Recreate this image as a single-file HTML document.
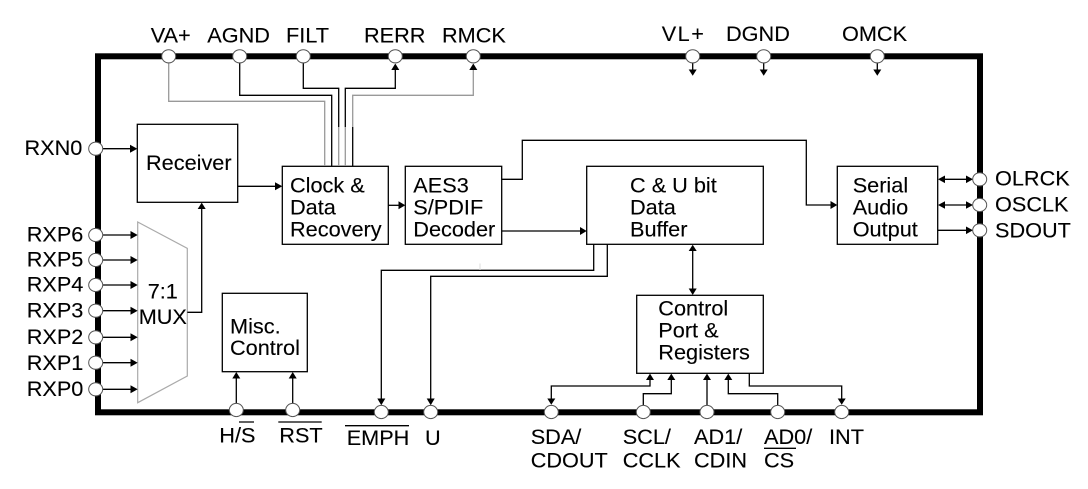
<!DOCTYPE html>
<html>
<head>
<meta charset="utf-8">
<style>
html,body{margin:0;padding:0;background:#fff;}
svg{display:block;}
text{font-family:"Liberation Sans",Arial,sans-serif;font-size:21.7px;fill:#000;stroke:#000;stroke-width:0.12;}
.b{fill:#fff;stroke:#000;stroke-width:1.3;}
.l{fill:none;stroke:#000;stroke-width:1.3;}
.g{fill:none;stroke:#999;stroke-width:1.3;}
.p{fill:#fff;stroke:#555;stroke-width:1;}
.a{fill:#000;stroke:none;}
</style>
</head>
<body>
<svg width="1088" height="489" viewBox="0 0 1088 489" xmlns="http://www.w3.org/2000/svg">
<rect width="1088" height="489" fill="#fff"/>
<rect x="98" y="56.3" width="882" height="356" fill="none" stroke="#000" stroke-width="6"/>

<!-- boxes -->
<rect class="b" x="137.3" y="124.3" width="100.4" height="78"/>
<rect class="b" x="282.3" y="166.3" width="106" height="78"/>
<rect class="b" x="405.3" y="166.3" width="96.4" height="78"/>
<rect class="b" x="586.7" y="166.3" width="176.6" height="78"/>
<rect class="b" x="837.3" y="166.3" width="100.4" height="78"/>
<rect class="b" x="636.7" y="295.3" width="126.6" height="78"/>
<rect class="b" x="222.3" y="293.3" width="85" height="78.4"/>
<polygon points="137.7,222 187.3,248.3 187.3,376 137.7,402.7" fill="#fff" stroke="#aaa" stroke-width="1.2"/>

<!-- top bundle -->
<path class="g" d="M168.7 62V101.3H324.7V166"/>
<path class="l" d="M239.7 62V95.3H331.7V166"/>
<path class="l" d="M303.3 62V88.3H338.7V127"/>
<path class="g" d="M338.7 127V166"/>
<path class="l" d="M395.3 68V88.3H345.3V127"/>
<path class="g" d="M345.3 127V166"/>
<path class="g" d="M473.3 68V95.3H352.7V127"/>
<path class="l" d="M352.7 127V166"/>
<polygon class="a" points="395.3,63.5 391.3,70 399.3,70"/>
<polygon class="a" points="473.3,63.5 469.3,70 477.3,70"/>

<!-- top down arrows -->
<path class="l" d="M692.7 62V71M763.7 62V71M877.3 62V71"/>
<polygon class="a" points="692.7,75.7 688.7,69.5 696.7,69.5"/>
<polygon class="a" points="763.7,75.7 759.7,69.5 767.7,69.5"/>
<polygon class="a" points="877.3,75.7 873.3,69.5 881.3,69.5"/>

<!-- left inputs -->
<path class="l" d="M102 148.7H132M102 235H132M102 260H132M102 285H132M102 310.7H132M102 337.3H132M102 362.7H132M102 389.3H132"/>
<polygon class="a" points="137.3,148.7 130,144.7 130,152.7"/>
<polygon class="a" points="137.7,235 130.5,231 130.5,239"/>
<polygon class="a" points="137.7,260 130.5,256 130.5,264"/>
<polygon class="a" points="137.7,285 130.5,281 130.5,289"/>
<polygon class="a" points="137.7,310.7 130.5,306.7 130.5,314.7"/>
<polygon class="a" points="137.7,337.3 130.5,333.3 130.5,341.3"/>
<polygon class="a" points="137.7,362.7 130.5,358.7 130.5,366.7"/>
<polygon class="a" points="137.7,389.3 130.5,385.3 130.5,393.3"/>

<!-- mux to receiver -->
<path class="l" d="M187.3 312.3H201.7V208"/>
<polygon class="a" points="201.7,202.6 197.7,209 205.7,209"/>

<!-- receiver to clock -->
<path class="l" d="M237.7 186.3H276"/>
<polygon class="a" points="282.3,186.3 275,182.3 275,190.3"/>
<!-- clock to aes -->
<path class="l" d="M388.3 205.3H400"/>
<polygon class="a" points="405.3,205.3 398.5,201.3 398.5,209.3"/>
<!-- aes to serial -->
<path class="l" d="M501.7 179.3H522.3V140.3H806.3V205H832"/>
<polygon class="a" points="837.3,205 830.5,201 830.5,209"/>
<!-- aes to buffer -->
<path class="l" d="M501.7 231H581"/>
<polygon class="a" points="586.7,231 580,227 580,235"/>

<!-- buffer outs -->
<path class="l" d="M593.7 244.3V270.3H381.3V400"/>
<polygon class="a" points="381.3,405.3 377.3,398.5 385.3,398.5"/>
<path class="l" d="M607.3 244.3V276.3H430.7V400"/>
<polygon class="a" points="430.7,405.3 426.7,398.5 434.7,398.5"/>
<path d="M480 263.5V270" stroke="#ddd" stroke-width="1" fill="none"/>

<!-- buffer to control -->
<path class="l" d="M692.7 250V290"/>
<polygon class="a" points="692.7,244.8 688.7,251 696.7,251"/>
<polygon class="a" points="692.7,295 688.7,288.5 696.7,288.5"/>

<!-- misc -->
<path class="l" d="M236.3 404V377M292.7 404V377"/>
<polygon class="a" points="236.3,372 232.3,378.5 240.3,378.5"/>
<polygon class="a" points="292.7,372 288.7,378.5 296.7,378.5"/>

<!-- control port pins -->
<path class="l" d="M551.3 400V386H650V379"/>
<polygon class="a" points="551.3,404.7 547.3,398.5 555.3,398.5"/>
<polygon class="a" points="650,373.6 646,380 654,380"/>
<path class="l" d="M643.3 406V393.7H671.3V379"/>
<polygon class="a" points="671.3,373.6 667.3,380 675.3,380"/>
<path class="l" d="M707 406V379"/>
<polygon class="a" points="707,373.6 703,380 711,380"/>
<path class="l" d="M777.7 406V393.7H728.3V379"/>
<polygon class="a" points="728.3,373.6 724.3,380 732.3,380"/>
<path class="l" d="M749.3 373.3V386H841.7V400"/>
<polygon class="a" points="841.7,404.7 837.7,398.5 845.7,398.5"/>

<!-- right pins -->
<path class="l" d="M943 179.3H968M943 205H968M937.7 230.3H968"/>
<polygon class="a" points="938,179.3 945,175.5 945,183.1"/>
<polygon class="a" points="973,179.3 966,175.5 966,183.1"/>
<polygon class="a" points="938,205 945,201.2 945,208.8"/>
<polygon class="a" points="973,205 966,201.2 966,208.8"/>
<polygon class="a" points="973,230.3 966,226.5 966,234.1"/>

<!-- pins -->
<g class="pins">
<ellipse class="p" cx="168.7" cy="56.3" rx="7" ry="6.6"/>
<ellipse class="p" cx="239.7" cy="56.3" rx="7" ry="6.6"/>
<ellipse class="p" cx="303.3" cy="56.3" rx="7" ry="6.6"/>
<ellipse class="p" cx="395.3" cy="56.3" rx="7" ry="6.6"/>
<ellipse class="p" cx="473.3" cy="56.3" rx="7" ry="6.6"/>
<ellipse class="p" cx="692.7" cy="56.3" rx="7" ry="6.6"/>
<ellipse class="p" cx="763.7" cy="56.3" rx="7" ry="6.6"/>
<ellipse class="p" cx="877.3" cy="56.3" rx="7" ry="6.6"/>
<ellipse class="p" cx="95.7" cy="148.7" rx="7" ry="6.6"/>
<ellipse class="p" cx="95.7" cy="235" rx="7" ry="6.6"/>
<ellipse class="p" cx="95.7" cy="260" rx="7" ry="6.6"/>
<ellipse class="p" cx="95.7" cy="285" rx="7" ry="6.6"/>
<ellipse class="p" cx="95.7" cy="310.7" rx="7" ry="6.6"/>
<ellipse class="p" cx="95.7" cy="337.3" rx="7" ry="6.6"/>
<ellipse class="p" cx="95.7" cy="362.7" rx="7" ry="6.6"/>
<ellipse class="p" cx="95.7" cy="389.3" rx="7" ry="6.6"/>
<ellipse class="p" cx="979.7" cy="179.3" rx="7" ry="6.6"/>
<ellipse class="p" cx="979.7" cy="205" rx="7" ry="6.6"/>
<ellipse class="p" cx="979.7" cy="230.3" rx="7" ry="6.6"/>
<ellipse class="p" cx="236.3" cy="410" rx="7" ry="6.6"/>
<ellipse class="p" cx="292.7" cy="410" rx="7" ry="6.6"/>
<ellipse class="p" cx="381.3" cy="412" rx="7" ry="6.6"/>
<ellipse class="p" cx="430.7" cy="412" rx="7" ry="6.6"/>
<ellipse class="p" cx="551.3" cy="412" rx="7" ry="6.6"/>
<ellipse class="p" cx="643.3" cy="412" rx="7" ry="6.6"/>
<ellipse class="p" cx="707" cy="412" rx="7" ry="6.6"/>
<ellipse class="p" cx="777.7" cy="412" rx="7" ry="6.6"/>
<ellipse class="p" cx="841.7" cy="412" rx="7" ry="6.6"/>
</g>

<!-- top labels -->
<text x="150.7" y="42.7">VA+</text>
<text x="207.3" y="42.7">AGND</text>
<text x="286" y="42.7">FILT</text>
<text x="364" y="42.7">RERR</text>
<text x="442" y="42.7">RMCK</text>
<text x="661.7" y="41" letter-spacing="1.5">VL+</text>
<text x="726" y="41">DGND</text>
<text x="842" y="41">OMCK</text>

<!-- left labels -->
<text x="24.5" y="155">RXN0</text>
<text x="26.7" y="241.7">RXP6</text>
<text x="26.7" y="266.7">RXP5</text>
<text x="26.7" y="291.7">RXP4</text>
<text x="26.7" y="317.3">RXP3</text>
<text x="26.7" y="344">RXP2</text>
<text x="26.7" y="370">RXP1</text>
<text x="26.7" y="396">RXP0</text>

<!-- right labels -->
<text x="995" y="185.7">OLRCK</text>
<text x="995" y="211.7">OSCLK</text>
<text x="995" y="237.7">SDOUT</text>

<!-- block labels -->
<text x="146" y="170">Receiver</text>
<text x="290" y="192.3">Clock &amp;</text>
<text x="290" y="214.3">Data</text>
<text x="290" y="236.7">Recovery</text>
<text x="413.3" y="192.3">AES3</text>
<text x="413.3" y="214.3">S/PDIF</text>
<text x="413.3" y="236.7">Decoder</text>
<text x="630" y="192.3">C &amp; U bit</text>
<text x="630" y="214.3">Data</text>
<text x="630" y="236.7">Buffer</text>
<text x="852.7" y="192.3">Serial</text>
<text x="852.7" y="214.3">Audio</text>
<text x="852.7" y="236.7">Output</text>
<text x="658.3" y="315.7">Control</text>
<text x="658.3" y="337.7">Port &amp;</text>
<text x="658.3" y="359.3">Registers</text>
<text x="230" y="333.3">Misc.</text>
<text x="230" y="355">Control</text>
<text x="147.7" y="298.3">7:1</text>
<text x="138.7" y="324">MUX</text>

<!-- bottom labels -->
<text x="219.3" y="442.7">H/S</text>
<text x="279.3" y="442.7">RST</text>
<text x="346.7" y="445">EMPH</text>
<text x="425" y="445">U</text>
<text x="530.7" y="444">SDA/</text>
<text x="530.7" y="467.3">CDOUT</text>
<text x="622.7" y="444">SCL/</text>
<text x="622.7" y="467.3">CCLK</text>
<text x="694" y="444">AD1/</text>
<text x="694" y="467.3">CDIN</text>
<text x="764" y="444">AD0/</text>
<text x="764" y="467.3">CS</text>
<text x="829" y="444">INT</text>
<path class="l" d="M239 422H254M278.3 422H321.7M345 425.7H409M764 448.3H796"/>
</svg>
</body>
</html>
